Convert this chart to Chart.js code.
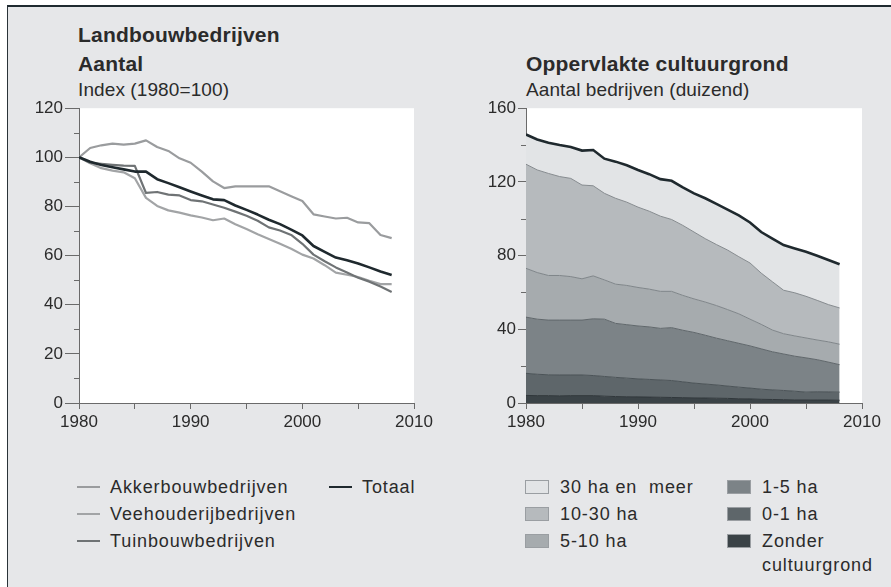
<!DOCTYPE html>
<html>
<head>
<meta charset="utf-8">
<script src="https://cdn.jsdelivr.net/npm/chart.js@4.4.1/dist/chart.umd.min.js"></script>
<style>
  body { margin: 0; width: 891px; height: 587px; overflow: hidden; background: #fff;
         font-family: "Liberation Sans", Arial, sans-serif; color: #2b2b2b; }
  #frame { position: absolute; left: 7px; top: 5px; width: 884px; height: 582px;
           background: #e6e7e9; border-top: 2px solid #1f2a30; border-left: 1px solid #2a3338; }
  .t { position: absolute; white-space: pre; }
  .title { font-weight: bold; font-size: 21px; line-height: 21px; letter-spacing: 0.2px; }
  .sub { font-size: 19px; line-height: 19px; letter-spacing: 0.1px; }
  .lg { font-size: 18px; line-height: 18px; letter-spacing: 0.9px; }
  .ln { position: absolute; height: 2px; width: 23px; }
  .sq { position: absolute; width: 22px; height: 12px; border: 1px solid #9a9ea2; }
  canvas { position: absolute; top: 96px; }
</style>
</head>
<body>
<div id="frame"></div>

<div class="t title" style="left:78px; top:24px;">Landbouwbedrijven</div>
<div class="t title" style="left:78px; top:53px;">Aantal</div>
<div class="t sub" style="left:78px; top:80px;">Index (1980=100)</div>
<div class="t title" style="left:526px; top:53px;">Oppervlakte cultuurgrond</div>
<div class="t sub" style="left:526px; top:80px;">Aantal bedrijven (duizend)</div>

<canvas id="left" width="445" height="345" style="left:0px;"></canvas>
<canvas id="right" width="446" height="345" style="left:445px;"></canvas>

<div id="legends"></div>

<script>
// jaren
const years = [1980, 1981, 1982, 1983, 1984, 1985, 1986, 1987, 1988, 1989,
               1990, 1991, 1992, 1993, 1994, 1995, 1996, 1997, 1998, 1999,
               2000, 2001, 2002, 2003, 2004, 2005, 2006, 2007, 2008];

// links: index 1980=100
const akkerbouw = [100, 103.8, 104.9, 105.6, 105.2, 105.6, 106.9, 104.2, 102.6, 99.6,
                   97.8, 94.2, 90.2, 87.5, 88.2, 88.2, 88.2, 88.2, 86.2, 84.2,
                   82.2, 76.8, 75.9, 75.1, 75.4, 73.5, 73.2, 68.4, 67.1];
const veehouderij = [100, 97.6, 95.6, 94.6, 93.9, 91.5, 83.5, 80.2, 78.4, 77.5,
                     76.4, 75.5, 74.4, 75.1, 72.8, 70.8, 68.7, 66.8, 64.8, 62.8,
                     60.4, 58.8, 56.1, 53.1, 52.2, 51.3, 49.7, 48.4, 48.4];
const tuinbouw = [100, 97.8, 97.3, 96.9, 96.6, 96.5, 85.5, 85.9, 84.8, 84.5,
                  82.6, 82.1, 80.8, 79.5, 77.9, 76.2, 74.2, 71.5, 70.2, 68.4,
                  64.8, 60.4, 57.7, 55.2, 53.1, 51.0, 49.4, 47.4, 45.2];
const totaalIndex = [100, 98.2, 96.9, 96.0, 95.1, 94.2, 94.2, 91.1, 89.5, 87.8,
                     86.1, 84.5, 82.9, 82.6, 80.4, 78.6, 76.7, 74.6, 72.8, 70.6,
                     68.2, 63.9, 61.5, 59.2, 58.1, 56.8, 55.2, 53.5, 52.1];

// rechts: aantal bedrijven (duizend), cumulatief per grootteklasse
const zonder = [4.1, 4.0, 4.0, 3.9, 4.0, 4.0, 4.0, 3.7, 3.5, 3.4,
                3.3, 3.2, 3.1, 3.0, 2.9, 2.8, 2.7, 2.6, 2.5, 2.3,
                2.2, 2.0, 1.9, 1.8, 1.7, 1.7, 1.6, 1.6, 1.5];
const tot0_1 = [16.1, 15.6, 15.3, 15.2, 15.2, 15.2, 14.9, 14.4, 13.9, 13.5,
                13.1, 12.8, 12.5, 12.2, 11.5, 10.8, 10.3, 9.8, 9.2, 8.6,
                8.1, 7.5, 7.1, 6.8, 6.4, 5.9, 6.1, 6.0, 5.9];
const tot1_5 = [46.6, 45.5, 45.0, 45.0, 45.0, 45.0, 45.7, 45.5, 43.2, 42.5,
                41.8, 41.3, 40.5, 40.9, 39.5, 38.3, 36.8, 35.2, 33.8, 32.4,
                31.0, 29.4, 27.8, 26.6, 25.4, 24.5, 23.5, 22.2, 20.8];
const tot5_10 = [73.1, 70.8, 69.2, 69.2, 68.6, 67.4, 69.0, 66.8, 64.5, 63.8,
                 62.7, 61.8, 60.6, 60.6, 58.4, 56.5, 54.8, 52.9, 50.7, 48.4,
                 45.5, 42.7, 39.6, 37.6, 36.4, 35.3, 34.2, 33.2, 31.9];
const tot10_30 = [129.6, 126.5, 124.6, 122.9, 121.9, 118.3, 117.9, 113.8, 111.1, 109.0,
                  106.3, 104.1, 101.4, 99.6, 96.4, 92.8, 89.2, 86.0, 83.0, 79.4,
                  76.0, 70.5, 65.8, 61.2, 59.8, 57.9, 55.7, 53.4, 51.6];
const totaal = [145.7, 143.0, 141.2, 140.0, 139.0, 137.0, 137.3, 132.6, 131.0, 129.0,
                126.5, 124.2, 121.5, 120.6, 117.0, 113.8, 111.1, 108.1, 105.0, 101.8,
                98.0, 92.8, 89.2, 85.7, 83.9, 82.1, 79.9, 77.6, 75.3];

const xLabels = [1980, 1990, 2000, 2010];

const axisColor = '#6a6a6a';
const tickFont = { family: '"Liberation Sans", Arial, sans-serif', size: 17 };

const pts = arr => years.map((y, i) => ({ x: y, y: arr[i] }));

// witte plotachtergrond
const plotBg = {
  id: 'plotBg',
  beforeDraw(chart) {
    const { ctx, chartArea: a } = chart;
    ctx.save();
    ctx.fillStyle = '#fff';
    ctx.fillRect(a.left, a.top, a.width, a.height);
    ctx.restore();
  }
};

// kleine tussenstreepjes op de y-as
const minorTicks = {
  id: 'minorTicks',
  afterDraw(chart, args, opts) {
    const y = chart.scales.y, ctx = chart.ctx;
    ctx.save();
    ctx.strokeStyle = axisColor;
    ctx.lineWidth = 1;
    for (let v = y.min + opts.step; v < y.max; v += opts.step * 2) {
      const py = Math.round(y.getPixelForValue(v)) + 0.5;
      ctx.beginPath();
      ctx.moveTo(y.right - opts.len, py);
      ctx.lineTo(y.right, py);
      ctx.stroke();
    }
    ctx.restore();
  }
};

function xScale() {
  return {
    type: 'linear', min: 1980, max: 2010,
    afterFit: s => { s.height = 38; },
    grid: { drawOnChartArea: false, tickLength: 6, color: axisColor },
    border: { color: axisColor },
    ticks: {
      stepSize: 5, autoSkip: false, maxRotation: 0, padding: 3,
      color: '#2b2b2b', font: tickFont,
      callback: v => xLabels.includes(v) ? String(v) : ''
    }
  };
}

function yScale(max, step, width, tickLen) {
  return {
    min: 0, max: max,
    afterFit: s => { s.width = width; },
    grid: { drawOnChartArea: false, tickLength: tickLen, color: axisColor },
    border: { color: axisColor },
    ticks: { stepSize: step, padding: 2, color: '#2b2b2b', font: tickFont }
  };
}

function line(data, color, width) {
  return {
    data: pts(data), borderColor: color, borderWidth: width,
    pointRadius: 0, tension: 0, fill: false, borderJoinStyle: 'round'
  };
}

new Chart(document.getElementById('left'), {
  type: 'line',
  data: {
    datasets: [
      line(totaalIndex, '#1f292e', 2.6),
      line(tuinbouw, '#6f7375', 2.2),
      line(veehouderij, '#a2a4a6', 2.2),
      line(akkerbouw, '#9a9c9e', 2.2)
    ]
  },
  options: {
    responsive: false, animation: false,
    layout: { padding: { top: 8, right: 31, left: 0, bottom: 0 } },
    plugins: { legend: { display: false }, tooltip: { enabled: false },
               minorTicks: { step: 10, len: 5 } },
    scales: { x: xScale(), y: yScale(120, 20, 79, 14) }
  },
  plugins: [plotBg, minorTicks]
});

function area(data, fill, color, border, bw) {
  return {
    data: pts(data), backgroundColor: color, borderColor: border, borderWidth: bw,
    pointRadius: 0, tension: 0, fill: fill
  };
}

new Chart(document.getElementById('right'), {
  type: 'line',
  data: {
    datasets: [
      area(zonder, 'origin', '#3b4347', '#30373b', 1),
      area(tot0_1, '-1', '#5e666a', '#4b5357', 1),
      area(tot1_5, '-1', '#7c8387', '#60676b', 1),
      area(tot5_10, '-1', '#a6abae', '#7f8589', 1),
      area(tot10_30, '-1', '#b6babd', '#868b8f', 1),
      area(totaal, '-1', '#e2e4e6', '#1f292e', 2.6)
    ]
  },
  options: {
    responsive: false, animation: false,
    layout: { padding: { top: 9, right: 29, left: 0, bottom: 0 } },
    plugins: { legend: { display: false }, tooltip: { enabled: false },
               minorTicks: { step: 20, len: 5 } },
    scales: { x: xScale(), y: yScale(160, 40, 81, 8) }
  },
  plugins: [plotBg, minorTicks]
});

// legenda's
const lineLegend = [
  { label: 'Akkerbouwbedrijven', color: '#9a9c9e', x: 77, y: 487 },
  { label: 'Veehouderijbedrijven', color: '#a2a4a6', x: 77, y: 514 },
  { label: 'Tuinbouwbedrijven', color: '#6f7375', x: 77, y: 541 },
  { label: 'Totaal', color: '#1f292e', x: 329, y: 487 }
];
const areaLegend = [
  { label: '30 ha en  meer', color: '#e2e4e6', x: 525, y: 487 },
  { label: '10-30 ha', color: '#b6babd', x: 525, y: 514 },
  { label: '5-10 ha', color: '#a6abae', x: 525, y: 541 },
  { label: '1-5 ha', color: '#7c8387', x: 727, y: 487 },
  { label: '0-1 ha', color: '#5e666a', x: 727, y: 514 },
  { label: 'Zonder\ncultuurgrond', color: '#3b4347', x: 727, y: 541 }
];

let html = '';
lineLegend.forEach(d => {
  html += `<div class="ln" style="left:${d.x}px; top:${d.y - 1}px; background:${d.color};"></div>`;
  html += `<div class="t lg" style="left:${d.x + 33}px; top:${d.y - 9}px;">${d.label}</div>`;
});
areaLegend.forEach(d => {
  html += `<div class="sq" style="left:${d.x}px; top:${d.y - 7}px; background:${d.color};"></div>`;
  html += `<div class="t lg" style="left:${d.x + 35}px; top:${d.y - 9}px; line-height:24px; margin-top:-3px;">${d.label}</div>`;
});
document.getElementById('legends').innerHTML = html;
</script>
</body>
</html>
